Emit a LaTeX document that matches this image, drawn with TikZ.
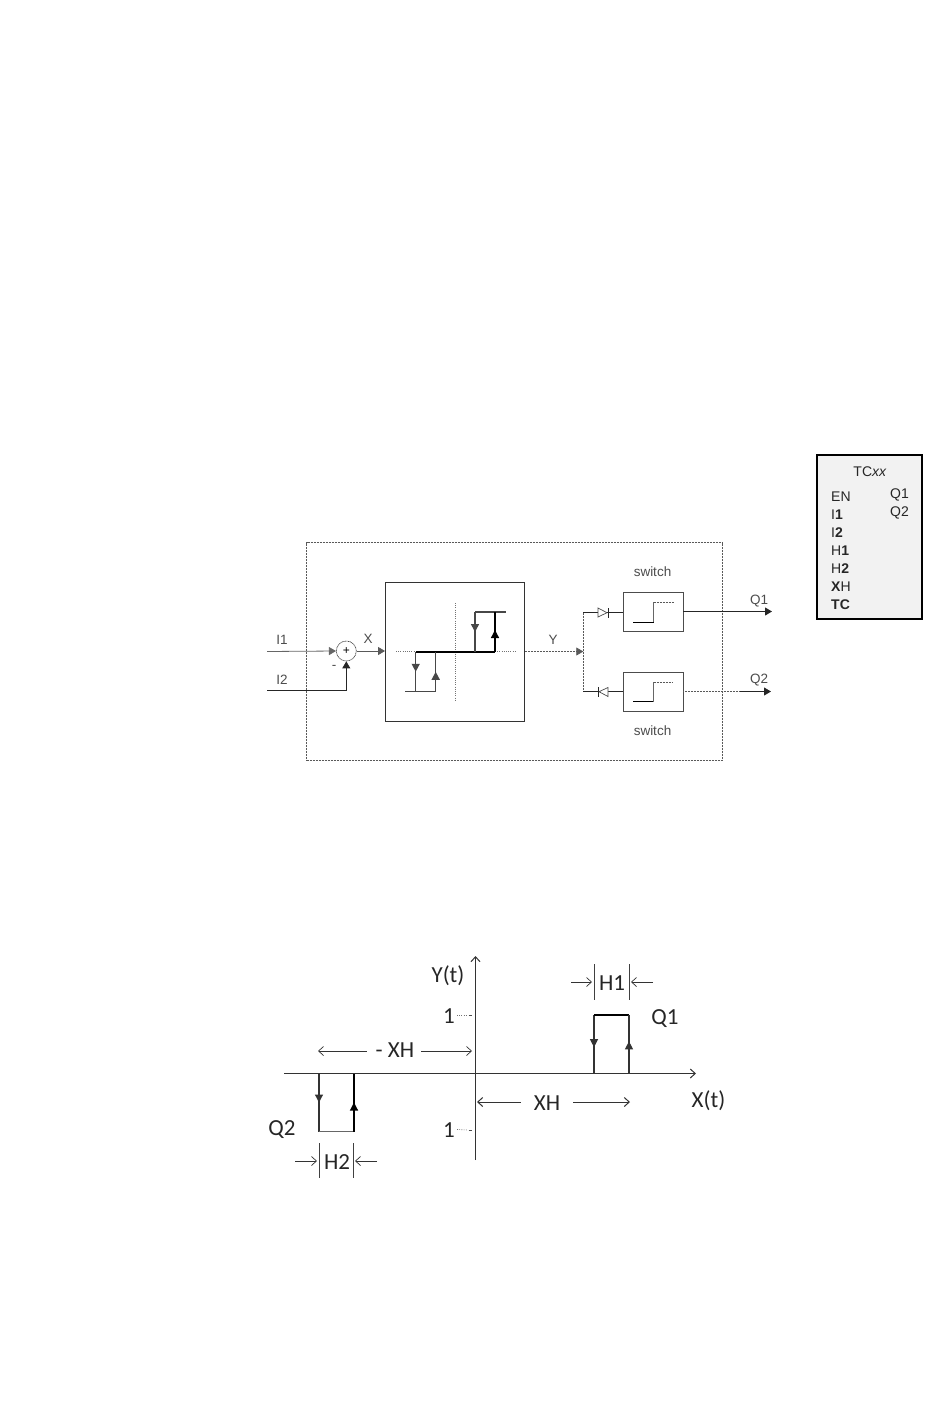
\documentclass[tikz,border=0pt]{standalone}
\usepackage{fontspec}
\setmainfont{Liberation Sans}
\newfontfamily\calibri{Carlito}
\usetikzlibrary{arrows.meta,decorations.markings}
\tikzset{
  x=1pt,y=-1pt,
  wire/.style={line width=.8pt,black!85},
  dotwire/.style={line width=.8pt,black!65,dash pattern=on 1pt off .5pt},
  faint/.style={line width=.6pt,black!55,dash pattern=on 1pt off 1.2pt},
  inp/.style={wire,-{Triangle[length=7pt,width=8pt]}},
  dotinp/.style={dotwire,-{Triangle[length=7pt,width=8pt,sep=0pt]}},
  thick hyst/.style={line width=1.4pt,black},
  soft hyst/.style={line width=1.5pt,black!72},
  tipat/.style={postaction={decorate},decoration={markings,mark=at position #1 with {\arrow{Triangle[length=8pt,width=8pt]}}}},
  boxlabel/.style={font=\fontsize{13.5}{15}\selectfont,black!70,inner sep=0pt},
  pinlabel/.style={font=\fontsize{14}{16}\selectfont,black!85,inner sep=0pt,anchor=west},
  plotlabel/.style={font=\calibri\fontsize{23}{26}\selectfont,black!85,inner sep=0pt},
  plotline/.style={line width=.9pt,black!75},
  dimarrow/.style={line width=.7pt,black!80,-{Straight Barb[length=5pt,width=9pt]}},
  pulse/.style={line width=1.2pt,black!80},
  swbox/.style={draw=black!70,line width=.9pt,minimum width=59.5pt,minimum height=39.5pt,inner sep=0pt},
  diode/.style={draw=black!70,fill=white,line width=.7pt},
}
\begin{document}
\begin{tikzpicture}
\useasboundingbox (0,0) rectangle (950,1408);
% symbol block
\node[draw=black,line width=1.3pt,fill=black!5,minimum width=105pt,minimum height=164pt,inner sep=0pt] (tc) at (869.5,537) {};
\node[pinlabel,anchor=center] (tcname) at (870,472) {TC\textit{xx}};
\node[pinlabel] (en) at (831,497) {EN};
\node[pinlabel] (qa) at (890,495) {Q1};
\node[pinlabel] (qb) at (890,513) {Q2};
\node[pinlabel] (ia) at (831,515) {I\textbf{1}};
\node[pinlabel] (ib) at (831,533) {I\textbf{2}};
\node[pinlabel] (ha) at (831,551) {H\textbf{1}};
\node[pinlabel] (hb) at (831,568.5) {H\textbf{2}};
\node[pinlabel] (xh) at (831,587) {\textbf{X}H};
\node[pinlabel] (tcp) at (831,605) {\textbf{TC}};
% block diagram frames
\node[draw=black!65,line width=.9pt,dash pattern=on 1pt off .5pt,minimum width=415.6pt,minimum height=218pt,inner sep=0pt] (frame) at (514.5,651.7) {};
\node[draw=black!80,line width=.9pt,minimum width=139pt,minimum height=138.5pt,inner sep=0pt] (hyst) at (455,651.8) {};
\node[draw=black!70,line width=.7pt,dash pattern=on 1pt off .6pt,circle,minimum size=20pt,inner sep=0pt,font=\fontsize{12}{12}\selectfont] (sum) at (346.3,651) {+};
\node[swbox] (swa) at (653.2,611.7) {};
\node[swbox] (swb) at (653.2,691.7) {};
% named free ends
\coordinate (ia0) at (267,651.5);
\coordinate (ib0) at (267,690);
\coordinate (ibc) at (346.3,690);
\coordinate (fork) at (583.3,651.5);
\coordinate (forka) at (583.3,612.7);
\coordinate (forkb) at (583.3,691.7);
\coordinate (qaend) at (772,611.5);
\coordinate (qbmid) at (740,691.5);
\coordinate (qbend) at (771,691.5);
% wires
\draw[inp,black!60] (ia0) -- (sum.west);
\draw[inp] (ib0) -- (ibc) -- (sum.south);
\draw[inp,black!65] (sum.east) -- (hyst.west |- sum.east);
\draw[dotinp] (hyst.east |- fork) -- (fork);
\draw[dotwire] (forka) -- (forkb);
\draw[wire] (forka) -- (swa.west |- forka);
\draw[wire] (forkb) -- (swb.west |- forkb);
\draw[inp,line width=1pt] (swa.east |- qaend) -- (qaend);
\draw[dotwire] (swb.east |- qbmid) -- (qbmid);
\draw[inp] (qbmid) -- (qbend);
% diodes
\draw[diode] (598,608) -- (598,617) -- (607,612.7) -- cycle;
\draw[wire] (608,608) -- (608,617.5);
\draw[diode] (608,687.5) -- (608,696.5) -- (599,691.7) -- cycle;
\draw[wire] (598.5,687) -- (598.5,696.5);
% hysteresis plot
\draw[faint] (396,651) -- (515,651);
\draw[faint,line width=.9pt] (455,603) -- (455,701);
\draw[thick hyst] (415.7,652) -- (495,652);
\draw[soft hyst,tipat=.5] (415.7,652) -- (415.7,691.5);
\draw[soft hyst] (405,691.5) -- (435.7,691.5);
\draw[soft hyst,tipat=.5] (435.7,691.5) -- (435.7,652);
\draw[soft hyst,tipat=.5] (475,612) -- (475,652);
\draw[soft hyst] (475,612) -- (505.5,612);
\draw[thick hyst,tipat=.55] (495,652) -- (495,612);
% step curves
\draw[line width=1pt,black] (633,622) -- (653.5,622);
\draw[line width=.8pt,black!60] (653.5,622) -- (653.5,602);
\draw[dotwire] (653.5,602) -- (674,602);
\draw[line width=1pt,black] (633,701.5) -- (653.5,701.5);
\draw[line width=.8pt,black!60] (653.5,701.5) -- (653.5,682);
\draw[dotwire] (653.5,682) -- (673,682);
% labels
\node[boxlabel] (lia) at (282,640) {I1};
\node[boxlabel] (lib) at (282,680) {I2};
\node[boxlabel] (lminus) at (334,667) {-};
\node[boxlabel] (lx) at (368,639) {X};
\node[boxlabel] (ly) at (553,640) {Y};
\node[boxlabel] (lsa) at (652.5,572) {switch};
\node[boxlabel] (lsb) at (652.5,730.5) {switch};
\node[boxlabel] (lqa) at (759,601) {Q1};
\node[boxlabel] (lqb) at (759,680) {Q2};
% lower plot axes
\coordinate (ytop) at (475.5,956);
\coordinate (ybot) at (475.5,1160);
\coordinate (xleft) at (284,1073.5);
\coordinate (xright) at (696,1073.5);
\draw[dimarrow,line width=1pt] (ybot) -- (ytop);
\draw[dimarrow,line width=1pt] (xleft) -- (xright);
\node[plotlabel] (ylab) at (448,976) {Y(t)};
\node[plotlabel] (xlab) at (708.5,1101) {X(t)};
\node[plotlabel] (onea) at (449,1016.5) {1};
\node[plotlabel] (oneb) at (449,1130.5) {1};
\draw[faint] (onea.east) ++(2,-1) -- (468,1015.5);
\draw[faint] (oneb.east) ++(2,-1) -- (468,1130);
\draw[line width=.9pt,black!70] (468.5,1015.5) -- (472,1015.5);
\draw[line width=.9pt,black!70] (468.5,1130) -- (472,1130);
% pulses
\draw[pulse,tipat=.5] (319,1073.5) -- (319,1131.5);
\draw[pulse,black!60] (319,1131.5) -- (354,1131.5);
\draw[pulse,black,tipat=.5] (354,1131.5) -- (354,1073.5);
\draw[pulse,tipat=.55] (594,1015) -- (594,1073.5);
\draw[pulse,black] (594,1015) -- (629,1015);
\draw[pulse,tipat=.55] (629,1073.5) -- (629,1015);
\node[plotlabel] (qtwo) at (282,1130) {Q2};
\node[plotlabel] (qone) at (665,1019) {Q1};
% dimensions
\node[plotlabel] (mxh) at (395,1050) {- XH};
\node[plotlabel] (pxh) at (547,1103) {XH};
\draw[dimarrow] (mxh.west) ++(-9,1) -- (318,1051);
\draw[dimarrow] (mxh.east) ++(7,1) -- (472,1051);
\draw[dimarrow,line width=1pt] (pxh.west) ++(-13,-1) -- (477,1102);
\draw[dimarrow,line width=1pt] (pxh.east) ++(13,-1) -- (630,1102);
\node[plotlabel] (hone) at (612,983) {H1};
\node[plotlabel] (htwo) at (337,1162) {H2};
\draw[plotline] (594,964) -- (594,1000);
\draw[plotline] (629,964) -- (629,1000);
\draw[plotline] (319,1143) -- (319,1178);
\draw[plotline] (353,1143) -- (353,1178);
\coordinate (hal) at (571,982); \coordinate (har) at (653,982);
\coordinate (hbl) at (295,1161); \coordinate (hbr) at (377,1161);
\draw[dimarrow] (hal) -- (592,982);
\draw[dimarrow] (har) -- (631,982);
\draw[dimarrow] (hbl) -- (317,1161);
\draw[dimarrow] (hbr) -- (355,1161);
\end{tikzpicture}
\end{document}
